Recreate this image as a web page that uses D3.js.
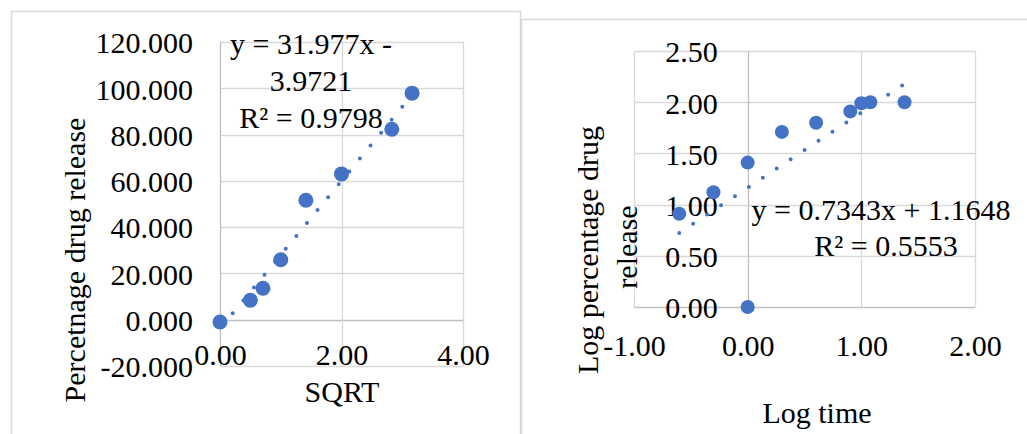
<!DOCTYPE html>
<html>
<head>
<meta charset="utf-8">
<script src="https://cdn.jsdelivr.net/npm/d3@7"></script>
<style>
  html, body { margin: 0; padding: 0; background: #fff; }
  svg { display: block; }
  text { font-family: "Liberation Serif", "Times New Roman", serif; fill: #000; }
</style>
</head>
<body>
<svg id="chart" width="1027" height="434"></svg>
<script>
// Release data, square-root-of-time plot (Higuchi)
const sqrtTime = [0, 0.5, 0.707, 1.0, 1.414, 2.0, 2.828, 3.162];
const releasePct = [-1.0, 8.4, 13.6, 25.9, 51.6, 63.0, 82.3, 97.9];
const sqrtFit = { slope: 31.977, intercept: -3.9721 };
const sqrtEqLines = ["y = 31.977x -", "3.9721", "R² = 0.9798"];
const sqrtYTicks = [-20, 0, 20, 40, 60, 80, 100, 120];
const sqrtXTicks = [0, 2, 4];

// Log-log plot (Korsmeyer-Peppas)
const logTime = [-0.602, -0.301, 0, 0, 0.301, 0.602, 0.903, 1.0, 1.079, 1.380];
const logRelease = [0.91, 1.12, 1.41, 0, 1.71, 1.80, 1.91, 1.99, 2.00, 2.00];
const logFit = { slope: 0.7343, intercept: 1.1648 };
const logEqLines = ["y = 0.7343x + 1.1648", "R² = 0.5553"];
const logYTicks = [0, 0.5, 1.0, 1.5, 2.0, 2.5];
const logXTicks = [-1, 0, 1, 2];

const BLUE = "#4472C4";
const GRID = "#d9d9d9";
const AXIS = "#bfbfbf";
const FONT = 30;

// fixed-decimal labels with a plain hyphen for negatives
const fmt = digits => {
  const f = d3.format(`.${digits}f`);
  return v => f(v).replace("\u2212", "-");
};

const svg = d3.select("#chart");

// chart frames
svg.append("path")
  .attr("d", "M11.5,434 V11.5 H520.5 V434")
  .attr("fill", "none").attr("stroke", GRID).attr("stroke-width", 1.5);
svg.append("path")
  .attr("d", "M521.5,434 V19.5 H1027")
  .attr("fill", "none").attr("stroke", GRID).attr("stroke-width", 1.5);

function scatterPanel(cfg) {
  const g = svg.append("g");
  const x = d3.scaleLinear().domain(cfg.xDomain).range(cfg.xRange);
  const y = d3.scaleLinear().domain(cfg.yDomain).range(cfg.yRange);

  // gridlines
  g.append("g").selectAll("line").data(cfg.yTicks).join("line")
    .attr("x1", cfg.xRange[0]).attr("x2", cfg.xRange[1])
    .attr("y1", d => Math.round(y(d)) + 0.5).attr("y2", d => Math.round(y(d)) + 0.5)
    .attr("stroke", d => d === 0 ? AXIS : GRID).attr("stroke-width", 1.3);
  g.append("g").selectAll("line").data(cfg.xTicks).join("line")
    .attr("y1", cfg.yRange[0]).attr("y2", cfg.yRange[1])
    .attr("x1", d => Math.round(x(d)) + 0.5).attr("x2", d => Math.round(x(d)) + 0.5)
    .attr("stroke", d => d === 0 ? AXIS : GRID).attr("stroke-width", 1.3);

  // axis labels, positioned where the axes cross at zero
  const yAxis = d3.axisLeft(y).tickValues(cfg.yTicks).tickFormat(fmt(cfg.yDigits))
    .tickSize(0).tickPadding(cfg.yPad);
  const ya = g.append("g").attr("transform", `translate(${x(0)},0)`).call(yAxis);
  const xAxis = d3.axisBottom(x).tickValues(cfg.xTicks).tickFormat(fmt(2))
    .tickSize(0).tickPadding(cfg.xPad);
  const xa = g.append("g").attr("transform", `translate(0,${y(0)})`).call(xAxis);
  [ya, xa].forEach(a => {
    a.select(".domain").remove();
    a.selectAll("text").style("font-size", FONT + "px")
      .style("font-family", '"Liberation Serif", "Times New Roman", serif').attr("fill", "#000");
  });
  ya.selectAll("text").attr("dy", "0.36em");

  // markers
  g.append("g").selectAll("circle").data(cfg.xs).join("circle")
    .attr("cx", d => x(d)).attr("cy", (d, i) => y(cfg.ys[i]))
    .attr("r", cfg.r).attr("fill", BLUE);

  // linear trendline, round-dot style
  const x0 = d3.min(cfg.xs), x1 = d3.max(cfg.xs);
  const f = v => cfg.fit.slope * v + cfg.fit.intercept;
  g.append("line")
    .attr("x1", x(x0)).attr("y1", y(f(x0)))
    .attr("x2", x(x1)).attr("y2", y(f(x1)))
    .attr("stroke", BLUE).attr("stroke-width", 4)
    .attr("stroke-linecap", "round")
    .attr("stroke-dasharray", "0 16.7")
    .attr("stroke-dashoffset", cfg.dashOffset);

  // equation label
  g.append("g").selectAll("text").data(cfg.eq).join("text")
    .attr("x", (d, i) => cfg.eqX[i]).attr("y", (d, i) => cfg.eqY[i])
    .attr("text-anchor", "middle").style("font-size", FONT + "px")
    .text(d => d);

  // axis titles
  g.append("text")
    .attr("x", cfg.xTitle.x).attr("y", cfg.xTitle.y)
    .attr("text-anchor", "middle").style("font-size", FONT + "px")
    .text(cfg.xTitle.text);
  cfg.yTitle.forEach(t => {
    g.append("text")
      .attr("transform", `translate(${t.x},${t.y}) rotate(-90)`)
      .attr("text-anchor", "middle").style("font-size", FONT + "px")
      .text(t.text);
  });
}

scatterPanel({
  xs: sqrtTime, ys: releasePct, fit: sqrtFit,
  xDomain: [0, 4], xRange: [220, 463],
  yDomain: [-20, 120], yRange: [366, 42],
  xTicks: sqrtXTicks, yTicks: sqrtYTicks, yDigits: 3,
  yPad: 27, xPad: 24, r: 7.5, dashOffset: 13.3,
  eq: sqrtEqLines, eqX: [311, 311, 311], eqY: [54, 91, 128],
  xTitle: { text: "SQRT", x: 342, y: 402 },
  yTitle: [{ text: "Percetnage drug release", x: 85, y: 260 }]
});

scatterPanel({
  xs: logTime, ys: logRelease, fit: logFit,
  xDomain: [-1, 2], xRange: [634, 975],
  yDomain: [0, 2.5], yRange: [307, 51],
  xTicks: logXTicks, yTicks: logYTicks, yDigits: 2,
  yPad: 30, xPad: 28, r: 7, dashOffset: 0,
  eq: logEqLines, eqX: [881, 886], eqY: [220, 256],
  xTitle: { text: "Log time", x: 817, y: 423 },
  yTitle: [
    { text: "Log percentage drug", x: 598, y: 250 },
    { text: "release", x: 637, y: 247 }
  ]
});
</script>
</body>
</html>
